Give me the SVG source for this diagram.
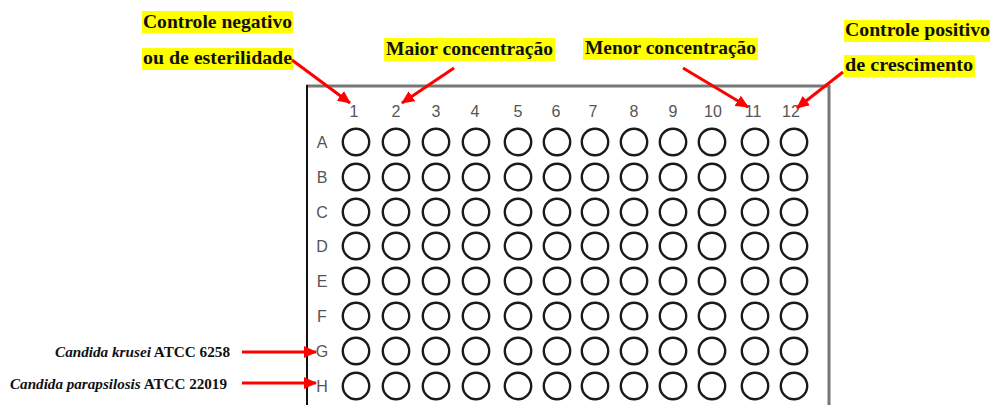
<svg xmlns="http://www.w3.org/2000/svg" xmlns:xlink="http://www.w3.org/1999/xlink" width="990" height="405" viewBox="0 0 990 405">
  <style>
    .lbl { font-family: "Liberation Serif", "DejaVu Serif", serif; font-weight: bold; font-size: 19px; fill: #111; }
    .hl { fill: #ffff00; }
    .strain { font-family: "Liberation Serif", "DejaVu Serif", serif; font-size: 15px; fill: #111; font-weight: bold; }
    .strain .it { font-style: italic; }
    .grid { font-family: "Liberation Sans", Arial, sans-serif; font-size: 16px; fill: #555; }
    .well { fill: none; stroke: #1a1a1a; stroke-width: 2.4; }
    .arrow { stroke: #f00; stroke-width: 3; fill: none; marker-end: url(#head); }
  </style>
  <defs>
    <marker id="head" markerUnits="userSpaceOnUse" markerWidth="14" markerHeight="12" refX="12" refY="6" orient="auto">
      <path d="M0,0 L13,6 L0,12 Z" fill="#f00"/>
    </marker>
    <circle id="w" r="13.2" class="well"/>
    <g id="row">
      <use xlink:href="#w" x="356"/><use xlink:href="#w" x="396"/><use xlink:href="#w" x="436"/><use xlink:href="#w" x="476"/>
      <use xlink:href="#w" x="518"/><use xlink:href="#w" x="557"/><use xlink:href="#w" x="595"/><use xlink:href="#w" x="634"/>
      <use xlink:href="#w" x="673"/><use xlink:href="#w" x="712"/><use xlink:href="#w" x="755"/><use xlink:href="#w" x="794"/>
    </g>
  </defs>
  <rect width="990" height="405" fill="#fff"/>

  <!-- microplate outline (bottom edge runs off the page) -->
  <g id="plate">
    <line x1="306" y1="86" x2="830" y2="86" stroke="#777" stroke-width="3"/>
    <line x1="307" y1="85" x2="307" y2="405" stroke="#111" stroke-width="2"/>
    <line x1="829" y1="85" x2="829" y2="405" stroke="#777" stroke-width="3"/>
  </g>

  <!-- column numbers -->
  <g id="columns" class="grid" text-anchor="middle">
    <text x="354" y="117">1</text><text x="396" y="117">2</text><text x="436" y="117">3</text><text x="475" y="117">4</text>
    <text x="518" y="117">5</text><text x="556" y="117">6</text><text x="593" y="117">7</text><text x="634" y="117">8</text>
    <text x="673" y="117">9</text><text x="713" y="117">10</text><text x="753" y="117">11</text><text x="791" y="117">12</text>
  </g>

  <!-- row letters -->
  <g id="rows" class="grid" text-anchor="middle">
    <text x="322" y="148">A</text><text x="322" y="183">B</text><text x="322" y="218">C</text><text x="322" y="252">D</text>
    <text x="322" y="287">E</text><text x="322" y="322">F</text><text x="322" y="357">G</text><text x="322" y="392">H</text>
  </g>

  <!-- 8 x 12 wells -->
  <g id="wells">
    <use xlink:href="#row" y="142"/><use xlink:href="#row" y="177"/><use xlink:href="#row" y="212"/><use xlink:href="#row" y="246"/>
    <use xlink:href="#row" y="281"/><use xlink:href="#row" y="316"/><use xlink:href="#row" y="351"/><use xlink:href="#row" y="386"/>
  </g>

  <!-- highlighted annotations -->
  <g id="neg-control">
    <rect class="hl" x="142" y="11" width="151" height="22"/>
    <rect class="hl" x="142" y="48" width="151" height="22"/>
    <text class="lbl" x="143" y="28" textLength="149" lengthAdjust="spacingAndGlyphs">Controle negativo</text>
    <text class="lbl" x="143" y="64" textLength="149" lengthAdjust="spacingAndGlyphs">ou de esterilidade</text>
  </g>
  <g id="max-conc">
    <rect class="hl" x="384" y="38" width="171" height="23"/>
    <text class="lbl" x="386" y="55" textLength="167" lengthAdjust="spacingAndGlyphs">Maior concentração</text>
  </g>
  <g id="min-conc">
    <rect class="hl" x="583" y="38" width="175" height="22"/>
    <text class="lbl" x="585" y="54" textLength="171" lengthAdjust="spacingAndGlyphs">Menor concentração</text>
  </g>
  <g id="pos-control">
    <rect class="hl" x="844" y="20" width="146" height="22"/>
    <rect class="hl" x="844" y="55" width="131" height="22"/>
    <text class="lbl" x="845" y="36" textLength="145" lengthAdjust="spacingAndGlyphs">Controle positivo</text>
    <text class="lbl" x="845" y="71" textLength="128" lengthAdjust="spacingAndGlyphs">de crescimento</text>
  </g>

  <!-- strain labels -->
  <g id="strain-g" class="strain">
    <text x="55" y="357" textLength="175" lengthAdjust="spacingAndGlyphs"><tspan class="it">Candida krusei</tspan> ATCC 6258</text>
  </g>
  <g id="strain-h" class="strain">
    <text x="10" y="389" textLength="217" lengthAdjust="spacingAndGlyphs"><tspan class="it">Candida parapsilosis</tspan> ATCC 22019</text>
  </g>

  <!-- pointer arrows -->
  <g id="connectors">
    <line class="arrow" x1="292" y1="60" x2="350" y2="103"/>
    <line class="arrow" x1="454" y1="68" x2="402" y2="103"/>
    <line class="arrow" x1="683" y1="68" x2="748" y2="107"/>
    <line class="arrow" x1="843" y1="72" x2="797" y2="108"/>
    <line class="arrow" x1="242" y1="352" x2="316" y2="352"/>
    <line class="arrow" x1="242" y1="383" x2="316" y2="383"/>
  </g>
</svg>
